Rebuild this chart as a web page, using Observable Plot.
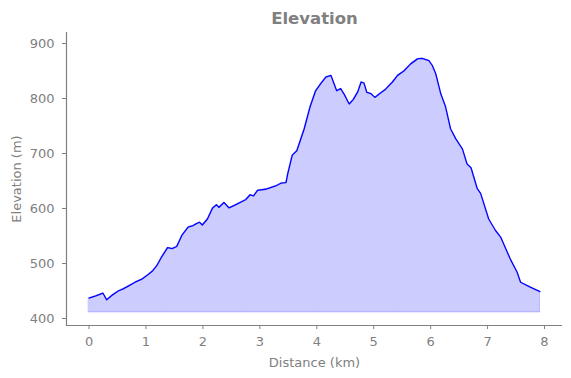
<!DOCTYPE html>
<html><head><meta charset="utf-8">
<script src="https://cdn.jsdelivr.net/npm/d3@7"></script>
<script src="https://cdn.jsdelivr.net/npm/@observablehq/plot@0.6"></script>
<style>body{margin:0;background:#fff}</style>
</head><body><div id="chart"></div>
<script>
const distanceKm = [0,0.12,0.246,0.31,0.4,0.514,0.6,0.69,0.81,0.92,1.04,1.12,1.19,1.27,1.38,1.46,1.54,1.63,1.74,1.83,1.88,1.94,1.99,2.08,2.17,2.24,2.28,2.37,2.46,2.58,2.75,2.83,2.89,2.96,3.1,3.19,3.28,3.37,3.46,3.49,3.57,3.65,3.78,3.88,3.98,4.07,4.16,4.25,4.35,4.42,4.48,4.57,4.64,4.72,4.78,4.83,4.88,4.95,5.02,5.12,5.21,5.33,5.42,5.53,5.65,5.77,5.85,5.97,6.03,6.09,6.18,6.26,6.35,6.44,6.56,6.64,6.71,6.82,6.88,7.02,7.14,7.23,7.32,7.40,7.52,7.58,7.75,7.92];
const elevationM = [437,441,446,434,442,450,454,459,466,471,480,487,496,511,529,527,531,551,566,569,572,575,570,581,601,607,602,611,601,607,616,625,623,633,635,638,641,646,647,663,697,705,745,784,814,827,839,842,814,818,808,790,798,812,830,828,811,809,802,810,817,830,842,850,863,872,873,869,860,845,808,786,745,727,708,681,674,636,627,581,560,548,527,508,484,466,457,449];
const baseElevation = 411;
const xTicks = [0,1,2,3,4,5,6,7,8];
const yTicks = [400,500,600,700,800,900];
const titleText = ["Elevation"];

const data = distanceKm.map((d, i) => ({d, e: elevationM[i]}));
const gray = "#808080";
const xDom = [-0.396, 8.316];
const yDom = [387.3, 920];

const plot = Plot.plot({
  width: 571, height: 378,
  marginLeft: 66, marginRight: 9, marginTop: 32, marginBottom: 53,
  style: {fontFamily: "DejaVu Sans", fontSize: "13px", color: gray, background: "white"},
  x: {domain: xDom},
  y: {domain: yDom},
  marks: [
    Plot.areaY(data, {x: "d", y1: baseElevation, y2: "e", fill: "blue", fillOpacity: 0.2, stroke: "blue", strokeOpacity: 0.2}),
    Plot.lineY(data, {x: "d", y: "e", stroke: "blue", strokeWidth: 1.3}),
    Plot.axisX({ticks: xTicks, tickSize: 4, tickPadding: 7, stroke: gray, fill: gray, label: "Distance (km)", labelAnchor: "center", labelArrow: "none", labelOffset: 41}),
    Plot.axisY({ticks: yTicks, tickSize: 4, tickPadding: 8, stroke: gray, fill: gray, label: "Elevation (m)", labelAnchor: "center", labelArrow: "none", labelOffset: 55}),
    Plot.ruleX([xDom[0]], {stroke: gray, strokeWidth: 1.2}),
    Plot.ruleY([yDom[0]], {stroke: gray, strokeWidth: 1.2}),
    Plot.text(titleText, {frameAnchor: "top", lineAnchor: "middle", dy: -14, fontWeight: "bold", fontSize: 16.5, fill: gray})
  ]
});
document.getElementById("chart").appendChild(plot);
</script>
</body></html>
